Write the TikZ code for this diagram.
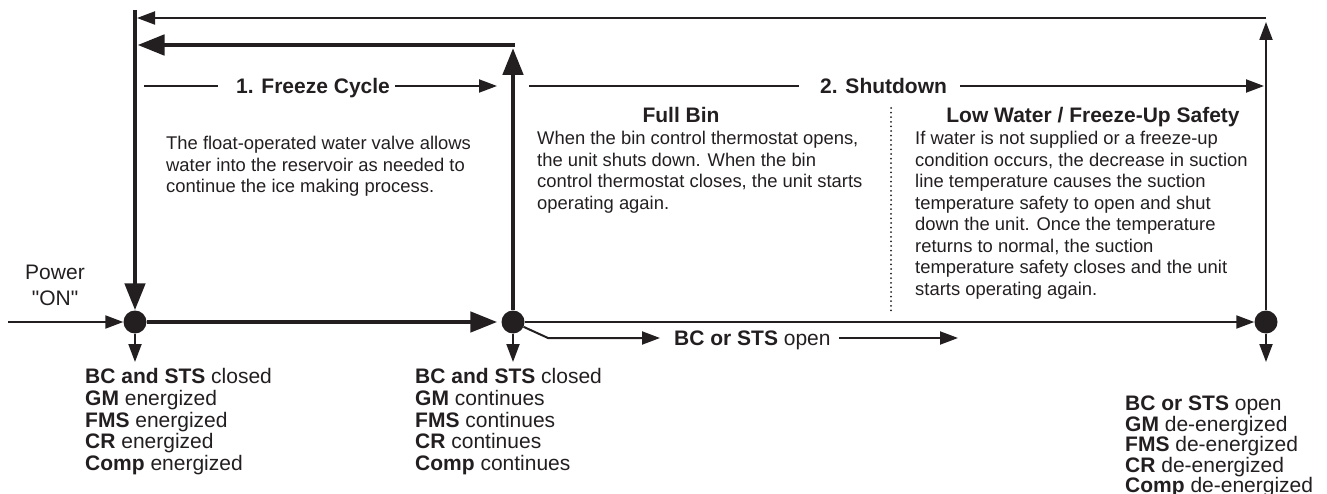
\documentclass[tikz,border=0pt]{standalone}
\usepackage{fontspec}
\setmainfont{Liberation Sans}[Ligatures=TeXOff]
\usetikzlibrary{arrows.meta}
\definecolor{ink}{RGB}{35,31,32}
\newcommand\tsA{\rule{0pt}{16pt}}
\newcommand\tsB{\rule{0pt}{14pt}}
\begin{document}
\begin{tikzpicture}[x=1pt,y=-1pt,
 thinl/.style={draw=ink, line width=2pt},
 thickl/.style={draw=ink, line width=4.8pt},
 tipS/.style={-{Triangle[length=18pt,width=13pt]}},
 tipL/.style={-{Triangle[length=27pt,width=20pt]}},
 dot/.style={circle, fill=ink, minimum size=23pt, inner sep=0pt},
 head/.style={font=\fontsize{21}{24}\selectfont\bfseries, text=ink, inner sep=0pt},
 body/.style={font=\fontsize{18.4}{21.5}\selectfont, text=ink, inner sep=0pt, align=left, anchor=north west},
 state/.style={font=\fontsize{21}{21.75}\selectfont, text=ink, inner sep=0pt, align=left, anchor=north west},
]
\useasboundingbox (0,0) rectangle (1327,494);

% junction dots
\node[dot] (d1) at (135,322) {};
\node[dot] (d2) at (513,322) {};
\node[dot] (d3) at (1266,322) {};

% coordinates for free ends
\coordinate (pwrIn) at (8,322);
\coordinate (topL) at (135,10);
\coordinate (d1dn) at (135,362);
\coordinate (d2dn) at (513,362);
\coordinate (d3dn) at (1266,362);
\coordinate (d2up) at (513,48);
\coordinate (retA) at (515,45);
\coordinate (retB) at (137.5,45);
\coordinate (d3up) at (1266,22);
\coordinate (topA) at (1266,18);
\coordinate (topB) at (137,18);
\coordinate (brK) at (548,338);
\coordinate (opB) at (958,338);
\coordinate (fcA) at (144,86);
\coordinate (fcB) at (497,86);
\coordinate (sdA) at (529,86);
\coordinate (sdB) at (1264,86);
\coordinate (sepT) at (891,108);
\coordinate (sepB) at (891,313);

% main connectors
\draw[thickl, tipL] (topL) -- (d1);
\draw[thinl, tipS] (pwrIn) -- (d1);
\draw[thickl, tipL, shorten >=4pt] (d1) -- (d2);
\draw[thinl, tipS] (d1) -- (d1dn);
\draw[thickl, tipL] (d2) -- (d2up);
\draw[thickl, tipL] (retA) -- (retB);
\draw[thinl, tipS] (d2) -- (d2dn);
\draw[thinl, tipS] (d2) -- (d3);
\draw[thinl, tipS] (d3) -- (d3up);
\draw[thinl, tipS] (topA) -- (topB);
\draw[thinl, tipS] (d3) -- (d3dn);

% BC or STS open branch
\node[state, anchor=base west] (open) at (674,345.5) {\textbf{BC or STS} open};
\draw[thinl, tipS, shorten >=14pt] (d2) -- (brK) -- (brK -| open.west);
\draw[thinl, tipS, shorten <=8pt] (brK -| open.east) -- (opB);

% section headers
\node[head, anchor=base west] (fc) at (236,93.5) {1. Freeze Cycle};
\draw[thinl, shorten >=18pt] (fcA) -- (fcA -| fc.west);
\draw[thinl, tipS, shorten <=5pt] (fcA -| fc.east) -- (fcB);

\node[head, anchor=base west] (sd) at (820,93.5) {2. Shutdown};
\draw[thinl, shorten >=21pt] (sdA) -- (sdA -| sd.west);
\draw[thinl, tipS, shorten <=13pt] (sdA -| sd.east) -- (sdB);

\node[head, anchor=base] (fb) at (681,122.5) {Full Bin};
\node[head, anchor=base] (lw) at (1093,122.5) {Low Water / Freeze-Up Safety};

% separator
\draw[ink, line width=2pt, line cap=round, dash pattern=on 0pt off 4.6pt] (sepT) -- (sepB);

% descriptions
\node[body] (fct) at (166,135.6) {\tsB The float-operated water valve allows\\water into the reservoir as needed to\\continue the ice making process.};
\node[body] (fbt) at (537,130.6) {\tsB When the bin control thermostat opens,\\the unit shuts down. When the bin\\control thermostat closes, the unit starts\\operating again.};
\node[body] (lwt) at (915,130.6) {\tsB If water is not supplied or a freeze-up\\condition occurs, the decrease in suction\\line temperature causes the suction\\temperature safety to open and shut\\down the unit. Once the temperature\\returns to normal, the suction\\temperature safety closes and the unit\\starts operating again.};

% power label
\node[font=\fontsize{21}{26}\selectfont, text=ink, align=center, anchor=north, inner sep=0pt] (pwr) at (55,263) {\tsA Power\\"ON"};

% states
\node[state] (s1) at (85,367.5) {\tsA\textbf{BC and STS} closed\\\textbf{GM} energized\\\textbf{FMS} energized\\\textbf{CR} energized\\\textbf{Comp} energized};
\node[state] (s2) at (415,367.5) {\tsA\textbf{BC and STS} closed\\\textbf{GM} continues\\\textbf{FMS} continues\\\textbf{CR} continues\\\textbf{Comp} continues};
\node[state, font=\fontsize{21}{20.5}\selectfont] (s3) at (1125,394.5) {\tsA\textbf{BC or STS} open\\\textbf{GM} de-energized\\\textbf{FMS} de-energized\\\textbf{CR} de-energized\\\textbf{Comp} de-energized};
\end{tikzpicture}
\end{document}
